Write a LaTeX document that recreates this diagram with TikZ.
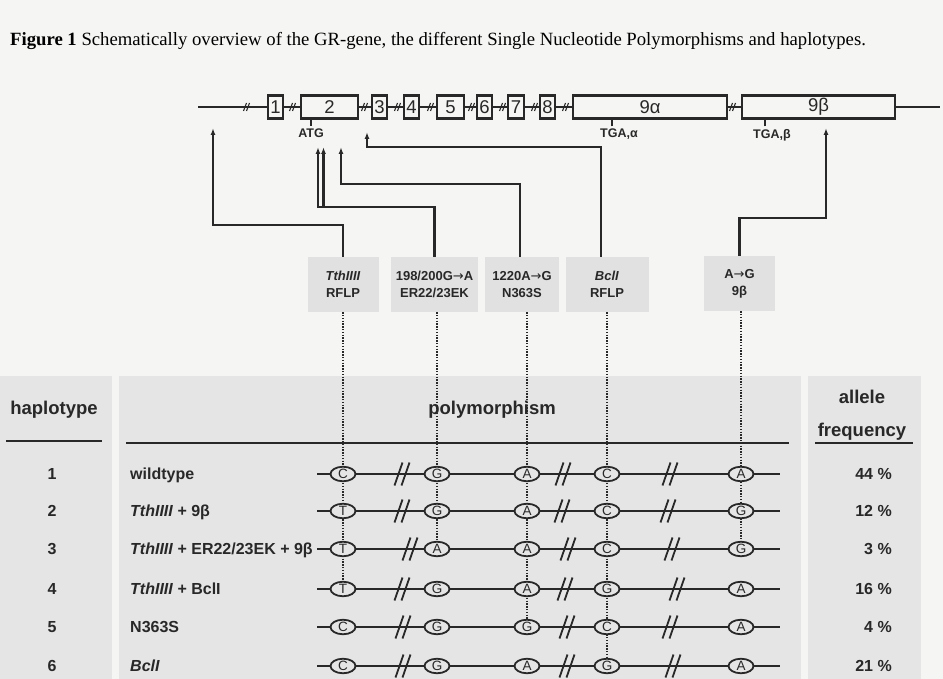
\documentclass[tikz,border=0pt]{standalone}
\usepackage{fontspec}
\setmainfont{Liberation Serif}
\newfontfamily\arialf{Liberation Sans}
\newfontfamily\djv{DejaVu Sans}
\newcommand{\rarr}{{\djv\mdseries→}}
\usetikzlibrary{arrows.meta,shapes.geometric}
\definecolor{pagebg}{RGB}{245,245,243}
\definecolor{tabgray}{RGB}{229,229,229}
\definecolor{lblgray}{RGB}{225,225,225}
\definecolor{ink}{RGB}{40,40,40}
\pgfdeclarelayer{bg}
\pgfsetlayers{bg,main}
\begin{document}
\begin{tikzpicture}[x=1pt,y=-1pt,
  gline/.style={draw=ink,line width=2.3pt},
  ebox/.style={draw=ink,line width=2.1pt,fill=pagebg,minimum height=23pt,inner sep=0pt,font=\arialf\fontsize{18.5}{18.5}\selectfont,text=ink},
  brk/.style={draw=ink,line width=1.1pt},
  rbrk/.style={draw=ink,line width=1.8pt},
  tickl/.style={draw=ink,line width=1.8pt},
  arr/.style={draw=ink,line width=2.2pt,-{Latex[length=7pt,width=5pt]}},
  lbl/.style={fill=lblgray,minimum height=55pt,inner sep=0pt,align=center,text=ink,font=\arialf\bfseries\fontsize{13}{17}\selectfont},
  small/.style={inner sep=0pt,text=ink,font=\arialf\bfseries\fontsize{12.5}{12.5}\selectfont},
  dotl/.style={draw=ink,line width=1.7pt,dash pattern=on 1.4pt off 1.4pt},
  snp/.style={ellipse,draw=ink,line width=1.8pt,fill=tabgray,minimum width=25pt,minimum height=14.5pt,inner sep=0pt,text=ink,font=\arialf\fontsize{13.5}{13.5}\selectfont},
  rowtxt/.style={inner sep=0pt,text=ink,font=\arialf\bfseries\fontsize{16}{16}\selectfont},
  hdr/.style={inner sep=0pt,text=ink,font=\arialf\bfseries\fontsize{18.5}{18.5}\selectfont},
  uline/.style={draw=ink,line width=2.5pt}
]
\begin{pgfonlayer}{bg}
\fill[pagebg] (0,0) rectangle (943,679);
\fill[tabgray] (0,376) rectangle (112,679);
\fill[tabgray] (119,376) rectangle (801,679);
\fill[tabgray] (808,376) rectangle (921,679);
\end{pgfonlayer}
\useasboundingbox (0,0) rectangle (943,679);

% title
\node[anchor=base west,inner sep=0pt,font=\fontsize{18.7}{18.7}\selectfont] (title) at (10,46)
  {\textbf{Figure 1} Schematically overview of the GR-gene, the different Single Nucleotide Polymorphisms and haplotypes.};

% gene line
\coordinate (gl) at (198,107);
\coordinate (gr) at (940,107);
\draw[gline] (gl) -- (gr);
\foreach \x in {247,293,365,398,431,472,503,535,566,733}{
  \draw[brk] (\x-3.5,111) -- (\x-0.5,103);
  \draw[brk] (\x-0.5,111) -- (\x+2.5,103);
}
\node[ebox,minimum width=15pt] (e1) at (275.5,107) {1};
\node[ebox,minimum width=57pt] (e2) at (329.5,107) {2};
\node[ebox,minimum width=15pt] (e3) at (379.5,107) {3};
\node[ebox,minimum width=15pt] (e4) at (411.5,107) {4};
\node[ebox,minimum width=27pt] (e5) at (450.5,107) {5};
\node[ebox,minimum width=15pt] (e6) at (484.5,107) {6};
\node[ebox,minimum width=16pt] (e7) at (516,107) {7};
\node[ebox,minimum width=15pt] (e8) at (547.5,107) {8};
\node[ebox,minimum width=154pt] (e9a) at (650,107) {9α};
\node[ebox,minimum width=153pt] (e9b) at (818.5,107) {9β};

\node[small,anchor=north] (atg) at (311,129) {ATG};
\draw[tickl] (e2.south -| atg.north) -- ([yshift=2.5pt]atg.north);
\node[small,anchor=north west] (tgaa) at (600,129) {TGA,α};
\draw[tickl] ([xshift=12pt,yshift=2.5pt]tgaa.north west) -- ++(0,-7);
\node[small,anchor=north west] (tgab) at (753,129) {TGA,β};
\draw[tickl] ([xshift=12pt,yshift=2.5pt]tgab.north west) -- ++(0,-7);

% label boxes
\node[lbl,minimum width=71pt] (tth) at (343,284.5) {\textit{TthIIII}\\RFLP};
\node[lbl,minimum width=87pt] (er) at (434.5,284.5) {198/200G\rarr A\\ER22/23EK};
\node[lbl,minimum width=74pt] (nsn) at (522,284.5) {1220A\rarr G\\N363S};
\node[lbl,minimum width=83pt] (bcl) at (607,284.5) {\textit{BclI}\\RFLP};
\node[lbl,minimum width=71pt] (ag) at (739.5,283.5) {A\rarr G\\9β};

% arrows
\coordinate (t1) at (213,128);
\coordinate (t2a) at (318,147);
\coordinate (t2b) at (323.5,147);
\coordinate (j2) at (323.5,207);
\coordinate (t3) at (341,147);
\coordinate (t4) at (367,132);
\coordinate (t5) at (826,128);
\draw[arr] (tth.north) -- ++(0,-32) -| (t1);
\draw[arr] (er.north) -- ++(0,-50) -| (t2a);
\draw[arr] (j2) -- (t2b);
\draw[arr] ([xshift=-2pt]nsn.north) -- ++(0,-73) -| (t3);
\draw[arr] ([xshift=-6pt]bcl.north) -- ++(0,-110) -| (t4);
\draw[arr] (ag.north) -- ++(0,-38) -| (t5);

% headers
\node[hdr,anchor=base] (hh) at (54,414) {haplotype};
\node[hdr,anchor=base] (hp) at (492,414) {polymorphism};
\node[hdr,anchor=base] (ha) at (862,403) {allele};
\node[hdr,anchor=base] (hf) at (862,436) {frequency};
\coordinate (u1a) at (6,441); \coordinate (u1b) at (102,441);
\coordinate (u2a) at (126,443); \coordinate (u2b) at (789,443);
\coordinate (u3a) at (815,443); \coordinate (u3b) at (913,443);
\draw[uline] (u1a) -- (u1b);
\draw[uline] (u2a) -- (u2b);
\draw[uline] (u3a) -- (u3b);

% rows
\foreach \r/\y/\a/\b/\c/\d/\e/\p/\q/\s/\f in {
  1/474/C/G/A/C/A/402/563/670/44,
  2/511/T/G/A/C/G/402/562/668/12,
  3/549/T/A/A/C/G/410/568/672/3,
  4/589/T/G/A/G/A/402/565/677/16,
  5/627/C/G/G/C/A/403/567/670/4,
  6/666/C/G/A/G/A/403/567/673/21}{
  \coordinate (L\r) at (317,\y);
  \coordinate (R\r) at (780,\y);
  \draw[gline] (L\r) -- (R\r);
  \foreach \bx in {\p,\q,\s}{
    \draw[rbrk] (\bx-7.5,\y+11.5) -- (\bx+0.5,\y-11.5);
    \draw[rbrk] (\bx-0.5,\y+11.5) -- (\bx+7.5,\y-11.5);
  }
  \node[snp] (s\r-1) at (343,\y) {\a};
  \node[snp] (s\r-2) at (437,\y) {\b};
  \node[snp] (s\r-3) at (527,\y) {\c};
  \node[snp] (s\r-4) at (607,\y) {\d};
  \node[snp] (s\r-5) at (741,\y) {\e};
  \node[rowtxt,anchor=base] (n\r) at (52,\y+5.5) {\r};
  \node[rowtxt,anchor=base east] (pc\r) at (892,\y+5.5) {\f\ \%};
}
\node[rowtxt,anchor=base west] (h1) at (130,479.5) {wildtype};
\node[rowtxt,anchor=base west] (h2) at (130,516.5) {\textit{TthIIII} + 9β};
\node[rowtxt,anchor=base west] (h3) at (130,554.5) {\textit{TthIIII} + ER22/23EK + 9β};
\node[rowtxt,anchor=base west] (h4) at (130,594.5) {\textit{TthIIII} + BclI};
\node[rowtxt,anchor=base west] (h5) at (130,632.5) {N363S};
\node[rowtxt,anchor=base west] (h6) at (130,671.5) {\textit{BclI}};

% dotted guide lines
\begin{pgfonlayer}{bg}
\draw[dotl] (tth.south) -- (s4-1.center);
\draw[dotl] ([xshift=2.5pt]er.south) -- (s3-2.center);
\draw[dotl] ([xshift=5pt]nsn.south) -- (s5-3.center);
\draw[dotl] (bcl.south) -- (s6-4.center);
\draw[dotl] ([xshift=1.5pt]ag.south) -- (s3-5.center);
\end{pgfonlayer}
\end{tikzpicture}
\end{document}
